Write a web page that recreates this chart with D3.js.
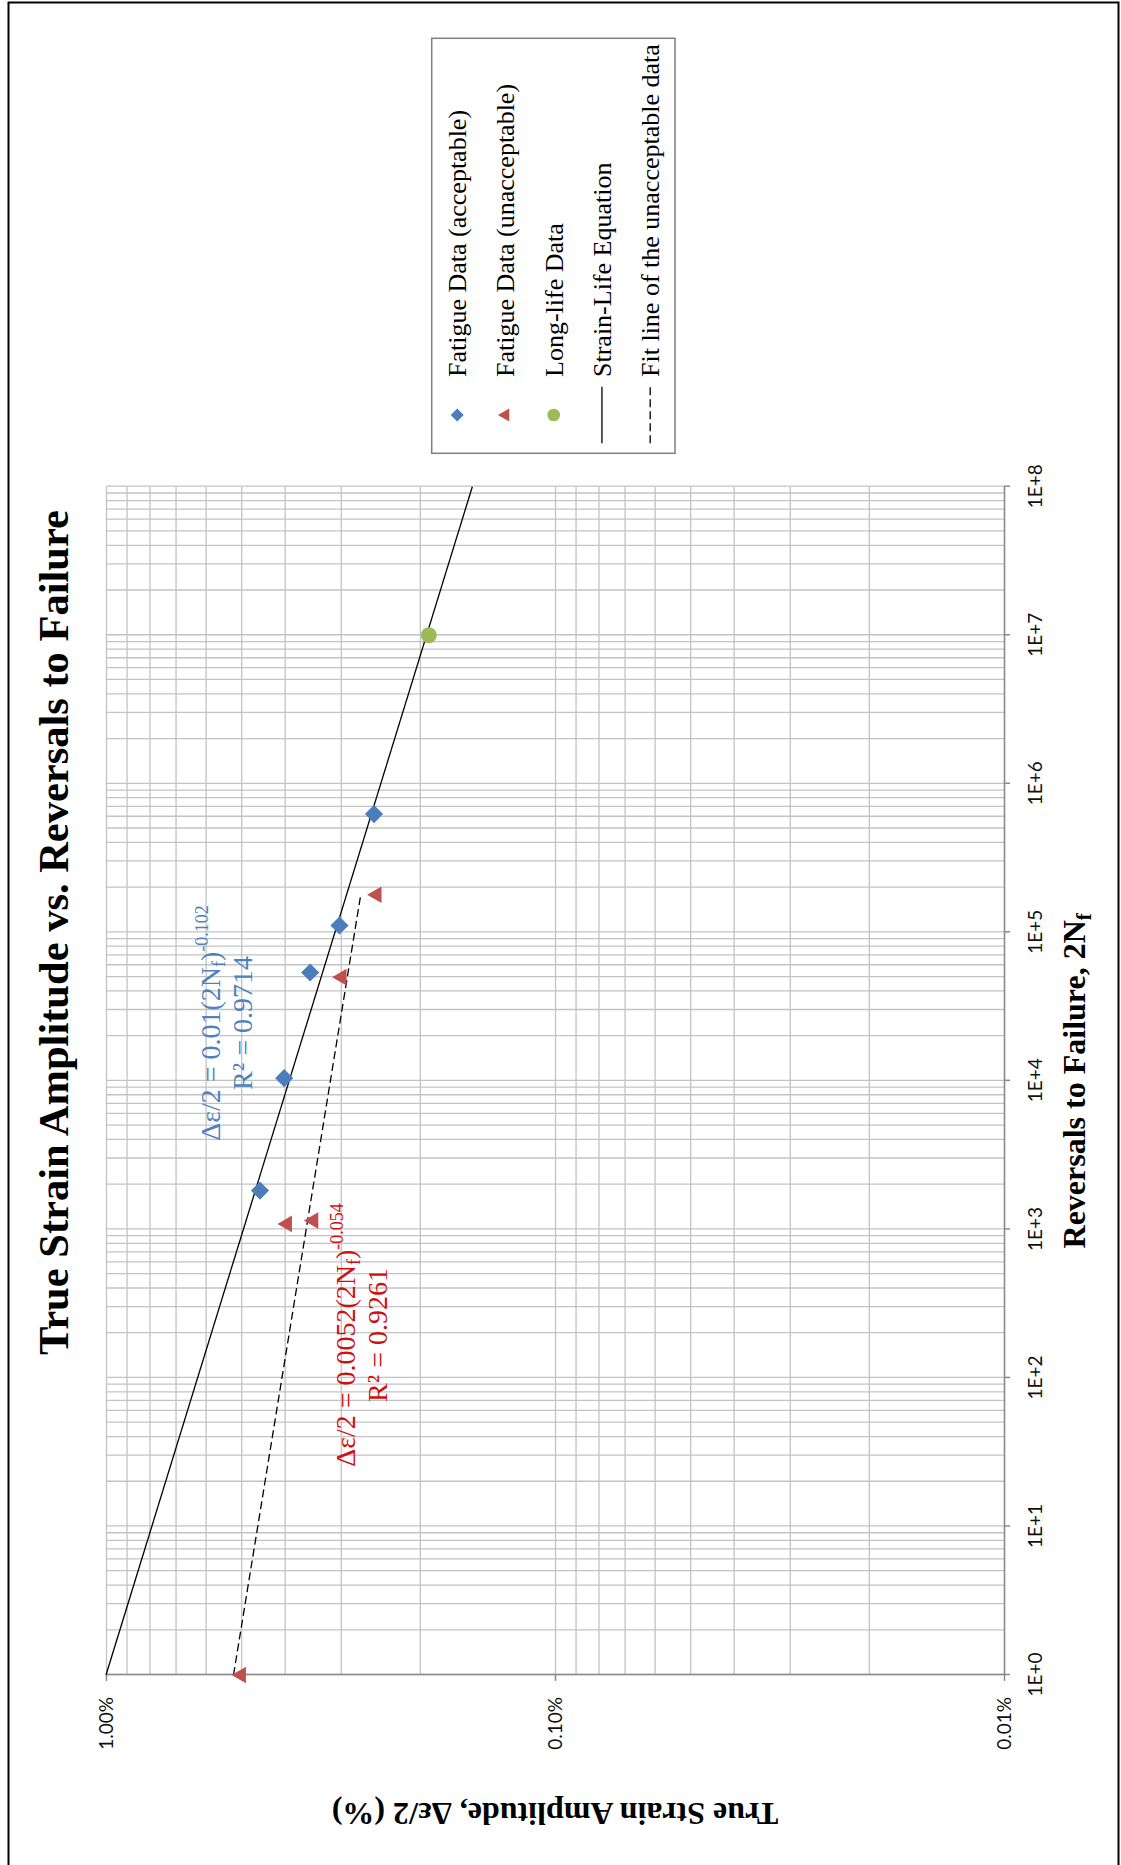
<!DOCTYPE html>
<html>
<head>
<meta charset="utf-8">
<script src="https://cdnjs.cloudflare.com/ajax/libs/d3/7.8.5/d3.min.js"></script>
<style>
  body { margin: 0; background: #fff; }
</style>
</head>
<body>
<div id="chart"></div>
<script>
'use strict'

////////////////////////////////////
/////////////// data ///////////////
////////////////////////////////////

// reversals to failure (2Nf) and true strain amplitude (%)
const acceptableN = [1825, 10430, 53600, 111100, 625000]
const acceptableStrain = [0.454, 0.401, 0.351, 0.302, 0.253]

const unacceptableN = [1, 1089, 1146, 49900, 179000]
const unacceptableStrain = [0.500, 0.395, 0.345, 0.2985, 0.2495]

const longLifeN = [1e7]
const longLifeStrain = [0.191]

// end points of the two lines
const strainLifeN = [1, 1e8]
const strainLifeStrain = [1.0, 0.1528]
const fitN = [1, 179000]
const fitStrain = [0.52, 0.2708]

const xTicks = [1, 1e1, 1e2, 1e3, 1e4, 1e5, 1e6, 1e7, 1e8]
const xTickLabels = ['1E+0', '1E+1', '1E+2', '1E+3', '1E+4', '1E+5', '1E+6', '1E+7', '1E+8']
const yTicks = [0.01, 0.1, 1]
const yTickLabels = ['0.01%', '0.10%', '1.00%']

const legendLabels = [
    'Fatigue Data (acceptable)',
    'Fatigue Data (unacceptable)',
    'Long-life Data',
    'Strain-Life Equation',
    'Fit line of the unacceptable data'
]

////////////////////////////////////
//////////// svg setup /////////////
////////////////////////////////////

const svgWidth = 1121
const svgHeight = 1865

// the chart is laid out in landscape and turned a quarter turn
const W = svgHeight, H = svgWidth
const margin = { left: 190, right: 486.7, top: 106, bottom: 117 }
const width = W - margin.left - margin.right
const height = H - margin.top - margin.bottom

const svg = d3.select('#chart')
    .append('svg')
    .attr('width', svgWidth)
    .attr('height', svgHeight)

svg.append('rect')
    .attr('width', svgWidth).attr('height', svgHeight)
    .style('fill', '#fff')

svg.append('rect')
    .attr('x', 8.5).attr('y', 2.5)
    .attr('width', 1110).attr('height', 1880)
    .style('fill', 'none')
    .style('stroke', '#000')
    .style('stroke-width', 2)

const root = svg.append('g')
    .attr('transform', `translate(0,${svgHeight}) rotate(-90)`)

const chart = root.append('g')
    .attr('transform', `translate(${margin.left},${margin.top})`)

const x = d3.scaleLog().domain([1, 1e8]).range([0, width])
const y = d3.scaleLog().domain([0.01, 1]).range([height, 0])

////////////////////////////////////
//////////// gridlines /////////////
////////////////////////////////////

chart.append('g')
    .attr('class', 'grid')
    .attr('transform', `translate(0,${height})`)
    .call(d3.axisBottom(x).tickValues(x.ticks(20)).tickSize(-height).tickFormat(''))

chart.append('g')
    .attr('class', 'grid')
    .call(d3.axisLeft(y).tickValues(y.ticks(20)).tickSize(-width).tickFormat(''))

chart.selectAll('.grid .domain').remove()
chart.selectAll('.grid line')
    .style('stroke', '#c3c3c3')
    .style('stroke-width', 1.3)

////////////////////////////////////
////////////// axes ////////////////
////////////////////////////////////

const xAxis = chart.append('g')
    .attr('transform', `translate(0,${height})`)
    .call(d3.axisBottom(x).tickValues(xTicks).tickSize(6).tickSizeOuter(0)
        .tickFormat((d, i) => xTickLabels[i]))

xAxis.selectAll('text')
    .attr('y', 38)
    .attr('dy', 0)

const yAxis = chart.append('g')
    .call(d3.axisLeft(y).tickValues(yTicks).tickSize(6).tickSizeOuter(0).tickPadding(16)
        .tickFormat((d, i) => yTickLabels[i]))

;[xAxis, yAxis].forEach(a => {
    a.select('.domain').style('stroke', '#8a8a8a').style('stroke-width', 1.5)
    a.selectAll('line').style('stroke', '#8a8a8a').style('stroke-width', 1.5)
    a.selectAll('text')
        .style('font-family', 'Lato, "Liberation Sans", sans-serif')
        .style('font-size', '19px')
        .style('fill', '#111')
})

////////////////////////////////////
////////////// lines ///////////////
////////////////////////////////////

const line = d3.line().x(d => x(d[0])).y(d => y(d[1]))

chart.append('path')
    .datum(strainLifeN.map((n, i) => [n, strainLifeStrain[i]]))
    .attr('d', line)
    .style('fill', 'none')
    .style('stroke', '#000')
    .style('stroke-width', 1.3)

chart.append('path')
    .datum(fitN.map((n, i) => [n, fitStrain[i]]))
    .attr('d', line)
    .style('fill', 'none')
    .style('stroke', '#000')
    .style('stroke-width', 1.3)
    .style('stroke-dasharray', '8,4')

////////////////////////////////////
///////////// markers //////////////
////////////////////////////////////

const diamond = d3.symbol(d3.symbolSquare, 165)()
const triangle = d3.symbol(d3.symbolTriangle, 120)()

chart.selectAll('.acc')
    .data(acceptableN.map((n, i) => [n, acceptableStrain[i]]))
    .join('path')
    .attr('class', 'acc')
    .attr('d', diamond)
    .attr('transform', d => `translate(${x(d[0])},${y(d[1])}) rotate(45)`)
    .style('fill', '#4a7ebb')

chart.selectAll('.unacc')
    .data(unacceptableN.map((n, i) => [n, unacceptableStrain[i]]))
    .join('path')
    .attr('class', 'unacc')
    .attr('d', triangle)
    .attr('transform', d => `translate(${x(d[0])},${y(d[1])})`)
    .style('fill', '#c0504d')

chart.selectAll('.long')
    .data(longLifeN.map((n, i) => [n, longLifeStrain[i]]))
    .join('circle')
    .attr('class', 'long')
    .attr('cx', d => x(d[0]))
    .attr('cy', d => y(d[1]))
    .attr('r', 8)
    .style('fill', '#9bbb59')

////////////////////////////////////
/////////// annotations ////////////
////////////////////////////////////

const serif = '"Liberation Serif", "Times New Roman", serif'

function equation(parent, u, v, color, coef, expo, r2) {
    const t1 = parent.append('text')
        .attr('x', u).attr('y', v)
        .attr('text-anchor', 'middle')
        .style('font-family', serif).style('font-size', '28px').style('fill', color)
    t1.append('tspan').text('\u0394\u03b5/2 = ' + coef + '(2N')
    t1.append('tspan').text('f').style('font-size', '18px').attr('dy', 5)
    t1.append('tspan').text(')').attr('dy', -5)
    t1.append('tspan').text(expo).style('font-size', '18px').attr('dy', -12)

    parent.append('text')
        .attr('x', u).attr('y', v + 32)
        .attr('text-anchor', 'middle')
        .style('font-family', serif).style('font-size', '28px').style('fill', color)
        .text('R\u00b2 = ' + r2)
}

equation(root, 842, 220, '#4f81bd', '0.01', '-0.102', '0.9714')
equation(root, 530, 355, '#d01010', '0.0052', '-0.054', '0.9261')

////////////////////////////////////
///////////// titles ///////////////
////////////////////////////////////

root.append('text')
    .attr('x', W / 2).attr('y', 68)
    .attr('text-anchor', 'middle')
    .style('font-family', serif).style('font-weight', 'bold').style('font-size', '42.5px')
    .text('True Strain Amplitude vs. Reversals to Failure')

const xTitle = root.append('text')
    .attr('x', margin.left + width / 2).attr('y', 1085)
    .attr('text-anchor', 'middle')
    .style('font-family', serif).style('font-weight', 'bold').style('font-size', '32px')
xTitle.append('tspan').text('Reversals to Failure, 2N')
xTitle.append('tspan').text('f').style('font-size', '21px').attr('dy', 6)

root.append('text')
    .attr('transform', `translate(62,${margin.top + height / 2}) rotate(-90)`)
    .attr('text-anchor', 'middle')
    .style('font-family', serif).style('font-weight', 'bold').style('font-size', '32px')
    .text('True Strain Amplitude, \u0394\u03b5/2 (%)')

////////////////////////////////////
////////////// legend //////////////
////////////////////////////////////

const legend = root.append('g').attr('transform', 'translate(1411.7,431.7)')

legend.append('rect')
    .attr('width', 415).attr('height', 243.3)
    .style('fill', '#fff')
    .style('stroke', '#7f7f7f')
    .style('stroke-width', 1.5)

const rowY = d3.scaleLinear().domain([0, 4]).range([25.5, 218.5])

legendLabels.forEach((label, i) => {
    const cy = rowY(i)
    if (i === 0) {
        legend.append('path').attr('d', d3.symbol(d3.symbolSquare, 85)())
            .attr('transform', `translate(38.3,${cy}) rotate(45)`).style('fill', '#4a7ebb')
    } else if (i === 1) {
        legend.append('path').attr('d', d3.symbol(d3.symbolTriangle, 75)())
            .attr('transform', `translate(38.3,${cy})`).style('fill', '#c0504d')
    } else if (i === 2) {
        legend.append('circle').attr('cx', 38.3).attr('cy', cy).attr('r', 6.3).style('fill', '#9bbb59')
    } else {
        legend.append('line')
            .attr('x1', 10).attr('x2', 66.6).attr('y1', cy).attr('y2', cy)
            .style('stroke', '#000').style('stroke-width', 1.3)
            .style('stroke-dasharray', i === 4 ? '8,4' : null)
    }
    legend.append('text')
        .attr('x', 76.3).attr('y', cy + 9)
        .style('font-family', serif).style('font-size', '26px')
        .text(label)
})
</script>
</body>
</html>
